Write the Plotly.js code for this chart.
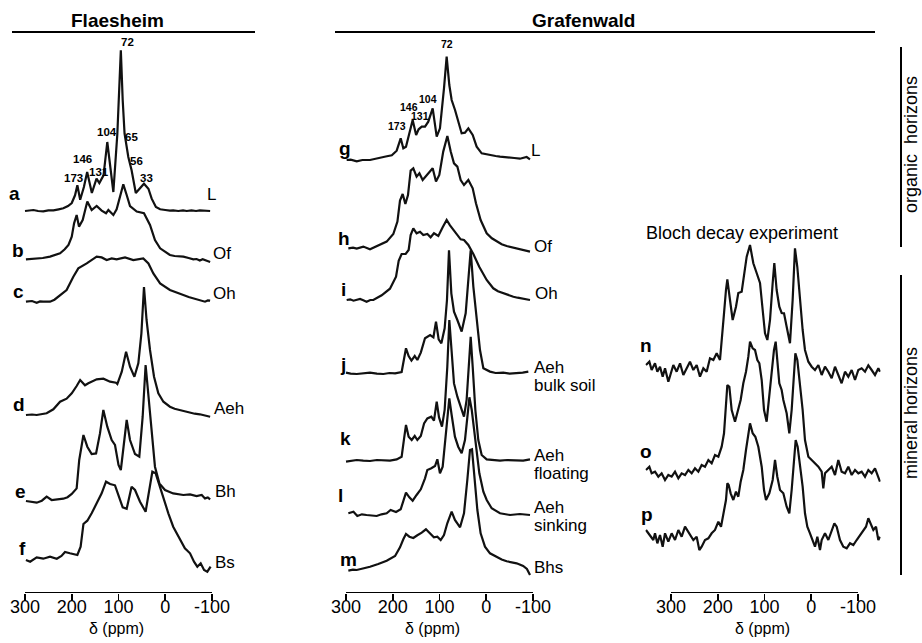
<!DOCTYPE html>
<html><head><meta charset="utf-8">
<script src="https://cdn.plot.ly/plotly-3.0.1.min.js"></script>
<style>html,body{margin:0;padding:0;background:#fff}</style>
</head><body><div id="chart" style="width:922px;height:643px"></div>
<script>
// ---------- DATA (ppm positions and intensities) ----------
const tickVals = [300, 200, 100, 0, -100];
const tickText = ["300", "200", "100", "0", "-100"];

// Flaesheim
const ppmA = [300,290,282,272,261,250,239,228,218,208,200,193,188,182,174,167,157,147,141,132,124,117.5,111,102.5,95,91,87,79,72,63,54,45.5,36,29,20,11,0,-10,-17,-28,-38,-46,-56,-66,-74,-84,-96];
const intA = [0,0.3,1,0,-0.3,0.7,0.7,1.7,2.7,5,8,15.7,25.7,11.3,24,39,18,32.3,28,35.7,69,44,19,77,160.7,110.7,77.3,54,40.7,18,22.3,27.3,22.3,12.3,4,1.7,1,0.3,0.7,0,0.7,0,0.7,0,0.7,0.3,0];
const ppmB = [298,285,275,262,246.5,236,225,215,207,200,195,189.5,184.5,176.6,166.7,157.4,146.7,136,126.7,121.7,111,104,96.8,89.7,82.5,75.4,61,45.5,32.6,22,11,0,-10,-20,-30,-38.7,-50,-60,-67,-74,-80,-85,-91,-96];
const intB = [0,0.3,0.7,1.3,2.7,4,6,10,14.3,22.7,36,44.3,32.7,39.3,57.7,49.3,53.3,48.7,46,49.3,44.3,50,62.7,75,64.3,53.3,47.7,46,34.3,19.3,11,7,4.3,3.3,3,2.7,1.3,0,0.3,-1.3,0,-0.7,-1.5,-2.7];
const ppmC = [298,285,275,268,261,246.5,237,228.7,211,196.6,186,168,146.7,136,125.3,114.6,104,86,68.3,47,36,25.5,11,-10,-25,-38.7,-50,-60,-74,-80,-85,-91,-96];
const intC = [0,0.7,-1,0.3,0,0,2,5,11.7,25,33.3,38.3,45,44.3,41.7,43.3,42.3,44.3,41.7,43.3,38.3,28.3,18.3,11.7,8.7,6.7,4.7,3.3,1.7,1,0,1.3,1];
const ppmD = [298,285,275,264,253.7,239.4,225,211,200,189.5,182,171.7,164.5,146.7,132.4,118,105.3,102.5,93,83.8,75.4,66,57.6,51,45.5,40,32.6,24,14.8,4,-10,-20,-31.6,-42,-53,-63,-74,-85,-96];
const intD = [0,0.5,0,0.7,1.7,5.7,13.3,16.3,21.7,29,35,29.7,31.7,35.7,36.3,33.3,32.3,31,43.3,63.3,48.3,38.3,51.7,81.7,128,95,65,38.3,21.7,13.3,8.3,6.3,5,3.3,2.3,1.3,0.7,-0.7,-1.7];
const ppmE = [298,285,275,264,253.7,243,230,218,209,200,189.5,184,175,166.7,157.4,148,139.6,132.4,124,114.6,107.5,100,95,88,82.5,75.4,64.7,55.5,48.3,42,36,29,22,12.6,0.5,-17,-28,-38.7,-53,-67,-78,-85,-91,-96];
const intE = [0.7,0,-1,1,5,1.7,2,3,4.5,7.7,13.3,41.7,66.7,55,47.7,48.3,68.3,91.7,75,61.7,56.7,36.7,31.7,58.3,81.7,61.7,47.7,45,85,136.7,105,68.3,35,18.3,11.7,8.3,7.3,6.7,7.3,5.7,6.7,3.3,4.3,2.3];
const ppmF = [298,289,275,261,246.5,232,222,214.4,204,188,181,175,166.7,157.4,146.7,136,126.7,118,107.5,99.6,91,82.5,72,64.7,54,42,35,27.6,20.5,12.6,4,-6.6,-17,-31.6,-42,-53,-61.5,-68.6,-75.8,-83,-90,-97];
const intF = [0,-1.7,2.7,1.3,3.3,1.3,4,8,6.7,5,13.3,36,39.3,46.7,56.7,66.7,78.3,76,74.7,65,52.7,51.3,73.3,70,58.3,48.3,70,88.3,86.7,75,60,46.7,33.3,20,11.7,6.7,-1.7,-6.7,-3.3,-10,-11.7,-6.7];

// Grafenwald (CPMAS)
const ppmG = [298.6,290,277,265,248.7,238,227,215,202,191.6,183,177.4,171.7,163,157.4,150,144.6,138,131,124,114.6,106,99,90.4,84.7,79,74,66.8,59.7,52.6,45.5,38.3,29,20.5,9.8,-8,-20,-29.4,-40,-50.8,-60,-72,-80,-86.5,-93.6];
const intG = [0,0.3,-1.3,0,0,1.3,2.7,3.5,4.7,9.3,21.7,11.7,13.3,30,40,25,30.7,33.3,33.3,38.3,51.7,23.3,31.7,71.7,103.3,75,60,50,38.3,26.7,27.3,31.7,25,13.3,6.7,4.7,4,3.3,3,2.7,2,1.3,2,3,0.7];
const ppmH = [295,285,277,263,248.7,240,231,213,198.8,190,184.5,178.8,173,167.4,161.7,156,149,143,136,126,114.6,107.5,100.4,92,83.2,76,69,61.8,54.7,47.6,38.3,29,22,12,-0.9,-12,-22.3,-33,-43.7,-55,-65,-79,-93.6];
const intH = [0,0.7,-0.3,1.7,-1,1,2.3,6.7,14.3,26.7,47.7,54.3,44.3,53.3,77.7,80,71.7,75,68.3,73.3,80,66.7,73.3,96.7,112.3,96.7,85,81.7,68.3,63.3,68.3,60,45,28.3,15,10,6.7,4,2.3,1,0,-1.7,-3.3];
const ppmI = [298.6,291,284,277,270,263,256,248,241.5,223.7,206,193,187.3,181,172.4,166,161.7,156,149,141.7,134.6,126,119,111.8,102.5,93.2,84.7,77.5,69,61.8,54.7,47.6,38.3,27.6,15,-0.9,-15,-25,-36.5,-47,-58,-67,-75.8,-85,-93.6];
const intI = [0,0.7,-0.7,0.3,1,-0.3,-1.7,0,0,4.7,11.3,23.3,39.3,46,46,50,65,71.7,66.7,68.3,65,66,62.7,66.7,64,72.7,80,74.7,69.3,65,60.7,60,55,46,33.3,20,11.7,8.7,6.7,5,3.3,2.3,1.3,0.7,0];
const ppmJ = [300,290,277,263,248.7,234,220,207,195,181,176,171.7,166,160,153,147.4,140,131,120,113,107.5,101.8,96,89,84,79.7,74.7,69,61.8,52.6,44,37.6,33.3,27.6,20.5,13.4,6.2,-8,-20,-36.5,-50,-65,-78,-90];
const intJ = [0.7,-0.3,-0.7,0.3,0.7,-0.3,-0.7,0.3,0,1.3,13.3,25,17.3,12.7,17.3,13.3,20.7,35,38.3,36,51.7,34,30,45,73.3,123,80,61.7,53.3,41.7,60,93.3,123,86.7,53.3,23.3,5,1.7,0.3,0.7,-0.3,0,0.7,1.7];
const ppmK = [300,290,277,263,248.7,234,220,206,191.6,181,176,171.7,166,159.5,153,147.4,140,133,126,117.5,111.8,106,101,94.7,89,83.3,79,74.7,69,61.8,54.7,47.6,42,37.6,33.3,29,23.3,17,9.8,-0.9,-15,-29.4,-45,-58,-70,-79,-93.6];
const intK = [-1,0,0.7,0,-0.3,0.7,0.7,0,1.3,4,21.3,35.7,24,20.7,24.7,20.7,24.7,37.3,42.3,44,40,59,43.3,34,50.7,94,140.7,110.7,77.3,64,54,44,60.7,94,124,94,50.7,20.7,5.7,1.3,0.3,0,0.7,0.7,0,0,1.3];
const ppmL = [295,284,275.8,266,256,245,234.4,224,213,204.5,193,183,177.4,171.7,164.5,157.4,149,140,131,126,117.5,109.6,104.6,99,93.2,87.5,82.5,79,74,67,60,52.6,45.5,39.8,36,31,24,14.8,6.2,-1,-11.6,-29.4,-50.8,-72,-93.6];
const intL = [1.7,3.3,-1,0.7,0,-0.7,-1,0.7,1.7,5,3,5.7,15,22.3,17.7,14.3,20,25.7,36.7,45,46.7,49,55.7,41.7,48.3,75,101.7,116.7,100,78.3,68.3,61.7,75,101.7,117.7,105,75,41.7,23.3,15,6.7,1.7,0,1,0];
const ppmM = [295,285,277,263,248.7,231,213,195,184.5,177.4,171.7,164.5,156,147.4,138,129,120.3,112,104.6,97.5,90.4,83.3,74,67,56,47.6,40.5,34.8,30.5,25.5,19,12,2.7,-8,-22.3,-33,-43.7,-55,-65,-79,-87,-93.6];
const intM = [-0.7,0.3,0,1.3,3.3,6,9.3,14,22.7,30.7,36,33.3,32,34.7,37.3,40.7,36.7,32.7,33.3,30,35,46.7,58.3,50,42.7,56.7,90,120,120.7,96.7,60,36.7,23.3,16.7,12.7,10.5,8.7,7.5,6.7,4,1,-5];

// Grafenwald (Bloch decay)
const ppmN = [353.5,346.3,341.4,334.2,329.2,323.5,317.8,312.8,305.7,300.7,295,287.9,280.7,273.6,266.5,259.4,252.2,245.1,238,230.8,223.7,216.6,209.4,202.3,195.2,191.6,186.6,182.4,179.5,173.8,168.1,161,156,148.8,143.8,138.1,131,123.9,116.8,109.6,103.9,98.9,93.9,88.2,82.5,79,74,68.3,63.3,58.3,52.6,45.5,39.8,34.8,29.8,24.1,18.4,13.4,6.2,-0.9,-8,-15.2,-22.3,-29.4,-36.5,-43.7,-50.8,-57.9,-65,-72.2,-79.3,-86.5,-93.6,-100.7,-107.8,-115,-122.1,-129.2,-136.4,-143.5,-147];
const intN = [2,5.3,-3,3.7,-4.7,0.3,-9.7,-1.3,-14.7,-6.3,2,-4.7,3.7,-8,-1.3,5.3,-3,2,-9.7,-1.3,-4.7,8.7,7,13.7,7,23.7,53.7,77,87.7,67,47,60.3,74,75.3,90.3,110.3,122,103.7,94,84,57,33.7,27,47,84,104,77,60.3,54,53.7,40.3,23.7,67,118.7,100,67,37,17,5.3,0.3,-3,2,-8,0.3,-4.7,-11.3,0.3,-8,-16.3,-4.7,-9.7,-3,-13,-3,-1.3,-4.7,1.7,-3,-8,-1.3,-4.7];
const ppmO = [353.5,346.3,341.4,334.2,327.1,320,312.8,305.7,298.6,291.4,284.3,277.2,270,262.9,255.8,248.7,241.5,234.4,227.3,220.1,213,205.9,198.7,191.6,186.6,182.4,179.5,175.2,170.2,163.1,156,151,145.3,139.6,134.6,131,125.3,120.3,115.3,111,106,101,95.4,89.7,84.7,79.7,76.1,72.6,68.3,63.3,59.7,52.6,46.9,41.9,38.3,34,29.8,24.1,18.4,13.4,6.2,-0.9,-8,-15.2,-22.3,-25.8,-29.4,-36.5,-43.7,-50.8,-57.9,-65,-72.2,-79.3,-86.5,-93.6,-100.7,-107.8,-115,-122.1,-129.2,-136.4,-143.5,-147];
const intO = [0,3.3,-3.3,-1.7,-6.7,-3.3,-10,-5,-6.7,-1.7,-8.3,-3.3,-5,0,-3.3,1.7,-1.7,5,3.3,10,6.7,15,13.3,23.3,36.7,60,85,83.3,60,48.3,60,70,86.7,98.3,113.3,128.3,121.7,120,110,106.7,90,60,48.3,73.3,93.3,120,128.3,110,86.7,80,70,56.7,36.7,60,86.7,116.7,110,86.7,60,30,13.3,10,6.7,3.3,-1.7,-18.3,-3.3,0,3.3,-5,10,-1.7,-3.3,3.3,-5,0,-3.3,-1.7,-6.7,0,-3.3,1.7,-6.7,-11.7];
const ppmP = [353.5,348.5,343.5,337.8,334.2,329.2,323.5,317.8,312.8,305.7,298.6,291.4,284.3,277.2,270,262.9,252.2,245.1,239.4,234.4,227.3,220.1,213,205.9,198.7,193,188,182.4,179.5,176.6,172.4,166.7,161,156,151,145.3,139.6,134.6,131,125.3,119.6,113.2,106,101,96.8,89.7,82.5,77.5,72.6,66.8,59.7,52.6,46.9,41.9,38.3,33.3,29.1,24.1,18.4,13.4,8.4,2.7,-3,-8,-13,-18.7,-22.3,-29.4,-36.5,-43.7,-49.4,-54.4,-61.5,-68.6,-75.8,-82.9,-90,-97.1,-104.3,-111.4,-117.1,-122.1,-127.1,-132.8,-138.5,-143.5,-147];
const intP = [0,-3.3,-6.7,-10,-3.3,-13.3,-5,-16.7,-3.3,-11.7,-3.3,-10,0,-6.7,3.3,-1.7,-10,-6.7,-20,-16.7,-10,-8.3,-3.3,0,8.3,3.3,15,30,46.7,45,36.7,30,38.3,33.3,48.3,60,80,96.7,106.7,96.7,93.3,83.3,63.3,40,30,36.7,50,70,53.3,40,36.7,23.3,16.7,40,63.3,90,83.3,63.3,43.3,16.7,3.3,-3.3,-10,-16.7,-6.7,-20,-10,-3.3,-10,-1.7,6.7,3.3,-10,-16.7,-18.3,-13.3,-15,-10,-5,0,3.3,11.7,6.7,0,3.3,-10,-6.7];

const letters = ["a","b","c","d","e","f","g","h","i","j","k","l","m","n","o","p"];
const horizonLabels = ["L","Of","Oh","Aeh","Bh","Bs","L","Of","Oh","Aeh|bulk soil","Aeh|floating","Aeh|sinking","Bhs"];
const peakLabelsFlaesheim = ["72","104","65","146","131","56","173","33"];
const peakLabelsGrafenwald = ["72","104","146","131","173"];

// ---------- LAYOUT HELPERS (pixel geometry) ----------
const W = 922, H = 643, AXY = 593;
const px = v => v / W, py = v => 1 - v / H;
const FONT = "Liberation Sans, Arial, Helvetica, sans-serif";

const spectra = [
  [ppmA,intA,211,'x'],[ppmB,intB,259.3,'x'],[ppmC,intC,301.7,'x'],[ppmD,intD,415,'x'],[ppmE,intE,501.7,'x'],[ppmF,intF,560,'x'],
  [ppmG,intG,160,'x2'],[ppmH,intH,248.3,'x2'],[ppmI,intI,300,'x2'],[ppmJ,intJ,373.3,'x2'],[ppmK,intK,460.7,'x2'],[ppmL,intL,515,'x2'],[ppmM,intM,570,'x2'],
  [ppmN,intN,367,'x3'],[ppmO,intO,470,'x3'],[ppmP,intP,530,'x3']
];
const traces = spectra.map(s => ({
  type:'scatter', mode:'lines', x:s[0], y:s[1].map(v => (AXY - s[2]) + v),
  xaxis:s[3], yaxis:'y', line:{color:'#111', width:2.2}, hoverinfo:'skip', showlegend:false
}));

function xax(domPx, range){
  return {domain:[px(domPx[0]), px(domPx[1])], range:range, anchor:'y',
    tickmode:'array', tickvals:tickVals, ticktext:tickText, ticks:'outside', ticklen:7, tickwidth:1.8, tickcolor:'#000',
    ticklabelstandoff:-10,
    showline:false, showgrid:false, zeroline:false, fixedrange:true,
    tickfont:{family:FONT, size:18, color:'#000'}};
}
const pxPerPpm = 0.4675;
const left = xax([25 - 2*pxPerPpm, 212 + 2*pxPerPpm], [302, -102]);
const mid = xax([346 - 2*pxPerPpm, 533 + 2*pxPerPpm], [302, -102]);
const right = xax([671 - 55*pxPerPpm, 858 + 48.5*pxPerPpm], [355, -148.5]);

const shapes = [];
['x','x2','x3'].forEach(a => shapes.push({type:'line', xref:a, yref:'y', x0:300, x1:-100, y0:0, y1:0, line:{color:'#000', width:2.2}}));
shapes.push({type:'line', xref:'paper', yref:'paper', x0:px(12), x1:px(255), y0:py(32), y1:py(32), line:{color:'#000', width:2}});
shapes.push({type:'line', xref:'paper', yref:'paper', x0:px(335), x1:px(875), y0:py(32), y1:py(32), line:{color:'#000', width:2}});
shapes.push({type:'line', xref:'paper', yref:'paper', x0:px(901), x1:px(901), y0:py(47), y1:py(247), line:{color:'#000', width:2}});
shapes.push({type:'line', xref:'paper', yref:'paper', x0:px(901), x1:px(901), y0:py(275), y1:py(575), line:{color:'#000', width:2}});

const ann = [];
function A(text, x, y, o){ ann.push(Object.assign({text:text, x:px(x), y:py(y), xref:'paper', yref:'paper', showarrow:false,
  xanchor:'center', yanchor:'middle', font:{family:FONT, size:17, color:'#000'}}, o||{})); }

A('<b>Flaesheim</b>', 117, 21, {font:{family:FONT, size:19, color:'#000'}});
A('<b>Grafenwald</b>', 583, 21, {font:{family:FONT, size:19, color:'#000'}});
A('Bloch decay experiment', 742, 233, {font:{family:FONT, size:18, color:'#000'}});
A('organic\u00a0 horizons', 911, 145, {textangle:-90, font:{family:FONT, size:18, color:'#000'}});
A('mineral horizons', 911, 413, {textangle:-90, font:{family:FONT, size:18, color:'#000'}});
[116, 432, 762].forEach(x => A('\u03b4 (ppm)', x, 628, {font:{family:FONT, size:16, color:'#000'}}));

const letterPos = [[15,193],[18,250],[18,291],[19,404],[20,491],[22,548],[345,148],[344,238],[343,289],[343,364],[345,438],[340,495],[348,559],[646,346],[646,452],[647,514]];
letters.forEach((t,i) => A('<b>'+t+'</b>', letterPos[i][0], letterPos[i][1], {font:{family:FONT, size:19, color:'#000'}}));

const hPos = [[205,194],[211,253],[211,293],[212,408],[213,491],[213,562],[529,150],[532,247],[533,293],[532,367],[532,455],[532,507],[532,567]];
horizonLabels.forEach((t,i) => {
  const parts = t.split('|');
  parts.forEach((p,j) => A(p, hPos[i][0], hPos[i][1] + j*18, {xanchor:'left'}));
});

const pkF = [[127,42],[107,132],[131,137],[82,159],[99,172],[136,161],[73,178],[146,178]];
peakLabelsFlaesheim.forEach((t,i) => A('<b>'+t+'</b>', pkF[i][0], pkF[i][1], {font:{family:FONT, size:11.5, color:'#000'}}));
const pkG = [[447,44],[428,99],[409,107],[420,116],[397,126]];
peakLabelsGrafenwald.forEach((t,i) => A('<b>'+t+'</b>', pkG[i][0], pkG[i][1], {font:{family:FONT, size:10.5, color:'#000'}}));

const layout = {
  width:W, height:H, margin:{l:0, r:0, t:0, b:0}, paper_bgcolor:'#fff', plot_bgcolor:'rgba(0,0,0,0)',
  showlegend:false, xaxis:left, xaxis2:mid, xaxis3:right,
  yaxis:{domain:[(H - AXY)/H, 1], range:[0, AXY], visible:false, fixedrange:true},
  shapes:shapes, annotations:ann
};
Plotly.newPlot('chart', traces, layout, {displayModeBar:false, staticPlot:true});
</script></body></html>
